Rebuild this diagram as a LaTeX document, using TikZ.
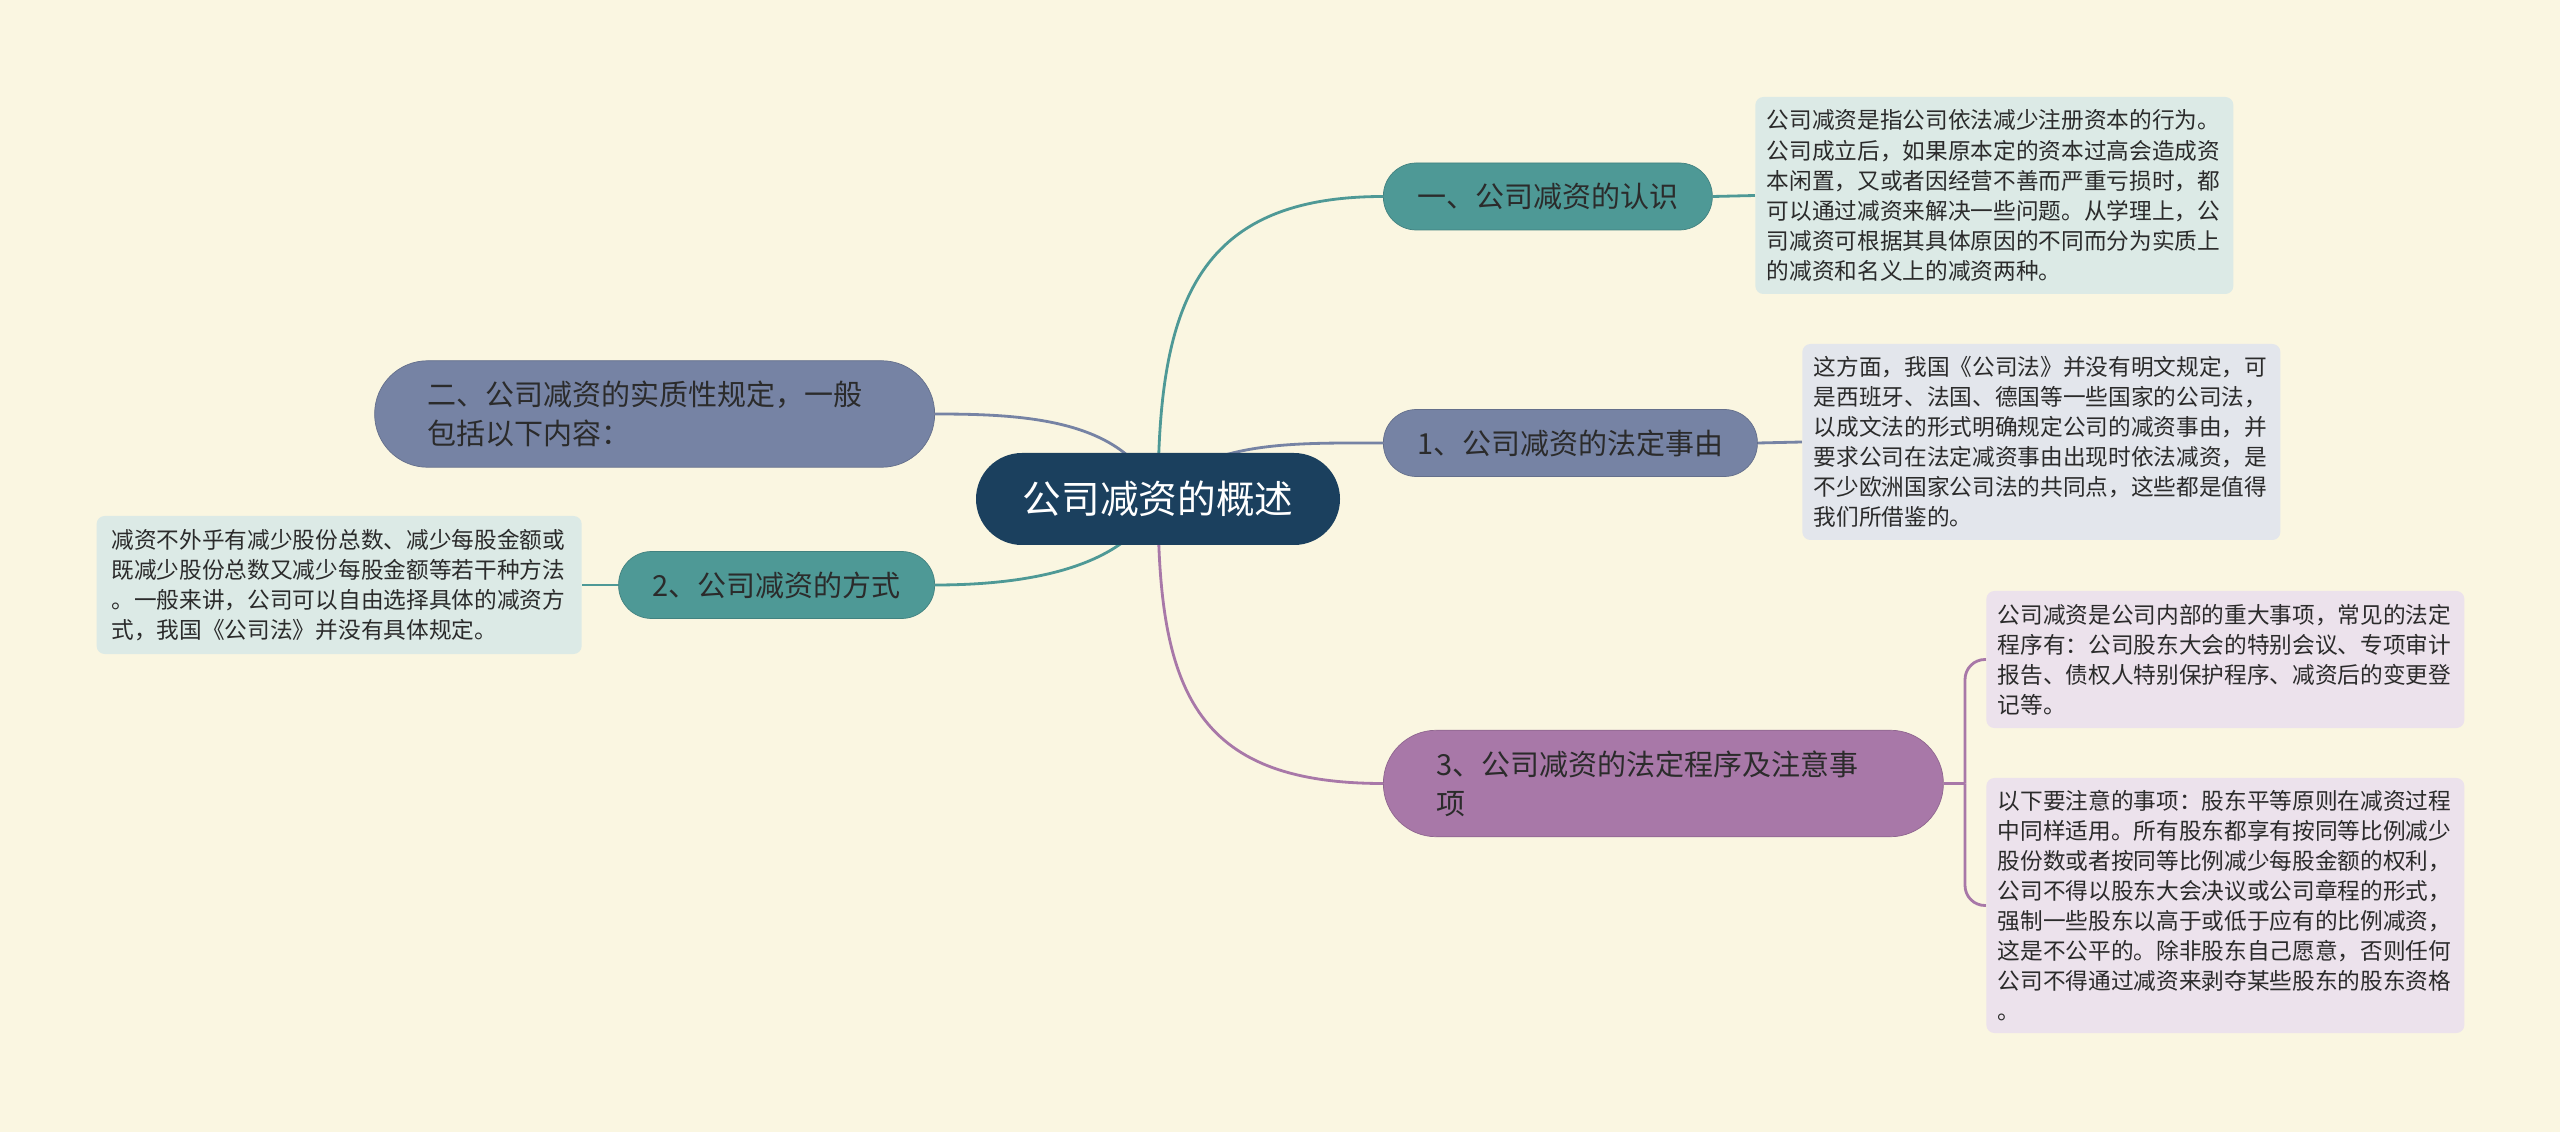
\documentclass[tikz,border=0pt]{standalone}
\usepackage{fontspec}
\setmainfont{Noto Sans CJK SC}
\usepackage{tikz}
\usetikzlibrary{backgrounds}
\definecolor{paper}{HTML}{FAF6E1}
\definecolor{navy}{HTML}{1B405E}
\definecolor{tealmid}{HTML}{4E9996}
\definecolor{slatemid}{HTML}{7683A4}
\definecolor{plummid}{HTML}{A878A8}
\definecolor{tealleaf}{HTML}{DCEAE6}
\definecolor{slateleaf}{HTML}{E3E6EC}
\definecolor{plumleaf}{HTML}{ECE2EC}
\definecolor{ink}{HTML}{2B2B2B}
\tikzset{
  centralbox/.style={fill=navy,text=white,rounded corners=9.2mm,
                     minimum width=72.8mm,minimum height=18.4mm,
                     font=\fontsize{22}{26}\selectfont},
  topicbox/.style={rounded corners=6.6mm,minimum height=13.4mm,
                   inner xsep=6.8mm,text=ink,line width=0.4pt,
                   font=\fontsize{16.5}{22.2}\selectfont},
  topicwide/.style={topicbox,rounded corners=10.6mm,minimum height=21.3mm,
                    inner xsep=10.6mm,text width=90.8mm,align=left},
  notebox/.style={rounded corners=1.6mm,inner xsep=2.3mm,inner ysep=1.5mm,
                  text width=91mm,align=left,text=ink,
                  font=\fontsize{12.9}{17.1}\selectfont},
  linkline/.style={draw=#1,line width=1.6pt},
}
\begin{document}
\begin{tikzpicture}[x=0.2mm,y=-0.2mm]
  \useasboundingbox (0,0) rectangle (2560,1132);
  \begin{scope}[on background layer]
    \fill[paper] (0,0) rectangle (2560,1132);
  \end{scope}
  % centre
  \node[centralbox] (hub) at (1158,499) {公司减资的概述};
  % topics, right side
  \node[topicbox,fill=tealmid,draw=tealmid!85!black,anchor=west]
    (renshi) at (1383,196.5) {一、公司减资的认识};
  \node[topicbox,fill=slatemid,draw=slatemid!85!black,anchor=west]
    (shiyou) at (1383,443) {1、公司减资的法定事由};
  \node[topicwide,fill=plummid,draw=plummid!85!black,anchor=west]
    (chengxu) at (1383,783.5) {3、公司减资的法定程序及注意事\\项};
  % topics, left side
  \node[topicwide,fill=slatemid,draw=slatemid!85!black,anchor=east]
    (guiding) at (935,414) {二、公司减资的实质性规定，一般\\包括以下内容：};
  \node[topicbox,fill=tealmid,draw=tealmid!85!black,anchor=east]
    (fangshi) at (935,585) {2、公司减资的方式};
  % notes
  \node[notebox,fill=tealleaf,minimum height=39.4mm,anchor=west]
    (renshinote) at (1755,195.5) {公司减资是指公司依法减少注册资本的行为。\\
    公司成立后，如果原本定的资本过高会造成资\\
    本闲置，又或者因经营不善而严重亏损时，都\\
    可以通过减资来解决一些问题。从学理上，公\\
    司减资可根据其具体原因的不同而分为实质上\\
    的减资和名义上的减资两种。};
  \node[notebox,fill=slateleaf,minimum height=39.2mm,anchor=west]
    (shiyounote) at (1802,442) {这方面，我国《公司法》并没有明文规定，可\\
    是西班牙、法国、德国等一些国家的公司法，\\
    以成文法的形式明确规定公司的减资事由，并\\
    要求公司在法定减资事由出现时依法减资，是\\
    不少欧洲国家公司法的共同点，这些都是值得\\
    我们所借鉴的。};
  \node[notebox,fill=plumleaf,minimum height=27.4mm,anchor=west]
    (chengxunote) at (1986,659.5) {公司减资是公司内部的重大事项，常见的法定\\
    程序有：公司股东大会的特别会议、专项审计\\
    报告、债权人特别保护程序、减资后的变更登\\
    记等。};
  \node[notebox,fill=plumleaf,minimum height=51mm,anchor=west]
    (zhuyinote) at (1986,905.5) {以下要注意的事项：股东平等原则在减资过程\\
    中同样适用。所有股东都享有按同等比例减少\\
    股份数或者按同等比例减少每股金额的权利，\\
    公司不得以股东大会决议或公司章程的形式，\\
    强制一些股东以高于或低于应有的比例减资，\\
    这是不公平的。除非股东自己愿意，否则任何\\
    公司不得通过减资来剥夺某些股东的股东资格\\
    。};
  \node[notebox,fill=tealleaf,minimum height=27.6mm,minimum width=97mm,
        anchor=east] (fangshinote) at (582,585) {减资不外乎有减少股份总数、减少每股金额或\\
    既减少股份总数又减少每股金额等若干种方法\\
    。一般来讲，公司可以自由选择具体的减资方\\
    式，我国《公司法》并没有具体规定。};
  \coordinate (fork) at (1965,783.5);
  % links
  \begin{scope}[on background layer]
    \draw[linkline=tealmid] (hub.center) .. controls +(0,-190) and +(-190,0) .. (renshi.west);
    \draw[linkline=slatemid] (hub.center) .. controls +(42,-59) and +(-90,0) .. (shiyou.west);
    \draw[linkline=plummid] (hub.center) .. controls +(0,190) and +(-190,0) .. (chengxu.west);
    \draw[linkline=slatemid] (hub.center) .. controls +(-30,-80) and +(90,0) .. (guiding.east);
    \draw[linkline=tealmid] (hub.center) .. controls +(-30,70) and +(90,0) .. (fangshi.east);
    \draw[linkline=tealmid] (renshi.east) -- (renshinote.west);
    \draw[linkline=slatemid] (shiyou.east) -- (shiyounote.west);
    \draw[linkline=tealmid] (fangshi.west) -- (fangshinote.east);
    \draw[linkline=plummid] (chengxu.east) -- (fork);
    \draw[linkline=plummid,rounded corners=4mm] (fork) |- (chengxunote.west);
    \draw[linkline=plummid,rounded corners=4mm] (fork) |- (zhuyinote.west);
  \end{scope}
\end{tikzpicture}
\end{document}
